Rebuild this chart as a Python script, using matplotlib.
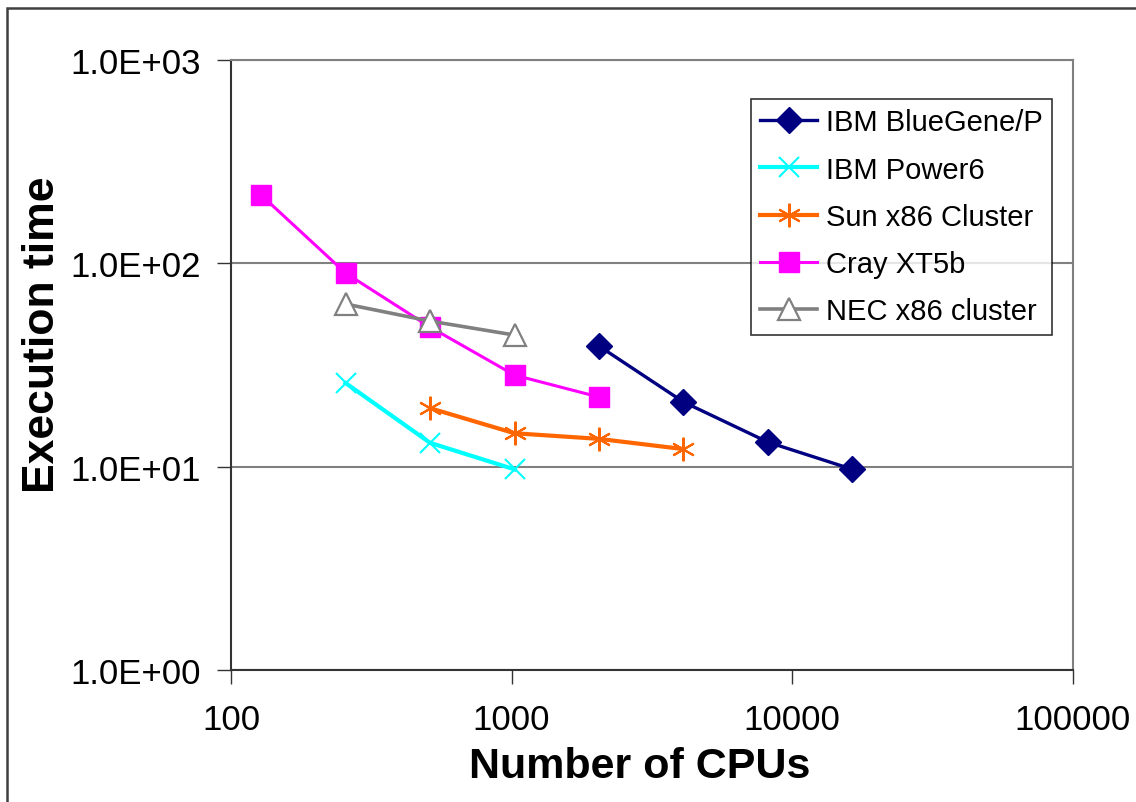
import math

import matplotlib
matplotlib.use("Agg")
import matplotlib.pyplot as plt
from matplotlib.ticker import FixedLocator, NullLocator, FuncFormatter
from matplotlib.patches import Rectangle

plt.rcParams["font.family"] = ["Liberation Sans", "DejaVu Sans"]

# Execution time vs. number of CPUs
bluegene_cpus = [2048, 4096, 8192, 16384]
bluegene_time = [39.2, 20.8, 13.2, 9.7]

power6_cpus = [256, 512, 1024]
power6_time = [25.8, 13.1, 9.7]

sun_cpus = [512, 1024, 2048, 4096]
sun_time = [19.4, 14.6, 13.7, 12.2]

cray_cpus = [128, 256, 512, 1024, 2048]
cray_time = [217, 89.6, 48.6, 28.2, 22.0]

nec_cpus = [256, 512, 1024]
nec_time = [63.1, 52.0, 44.4]

x_ticks = [100, 1000, 10000, 100000]
y_ticks = [1, 10, 100, 1000]

fig = plt.figure(figsize=(11.36, 8.03), dpi=100)
ax = fig.add_axes([0.2033, 0.1644, 0.7412, 0.7596])

# outer chart border (only left and top edges are inside the picture)
fig.patches.append(Rectangle((7 / 1136, -0.1), 1.2, (794 / 803) + 0.1,
                             transform=fig.transFigure, fill=False,
                             edgecolor="#404040", linewidth=1.8))

ax.plot(bluegene_cpus, bluegene_time, color="#000080", linewidth=2.4, marker="D",
        markersize=13, label="IBM BlueGene/P")
ax.plot(power6_cpus, power6_time, color="#00FFFF", linewidth=3, marker="x",
        markersize=15, markeredgewidth=1.5, label="IBM Power6")
ax.plot(sun_cpus, sun_time, color="#FF6600", linewidth=3, marker=(6, 2, 0),
        markersize=17, markeredgewidth=1.5, label="Sun x86 Cluster")
ax.plot(cray_cpus, cray_time, color="#FF00FF", linewidth=2.2, marker="s",
        markersize=14, label="Cray XT5b")
ax.plot(nec_cpus, nec_time, color="#808080", linewidth=2.6, marker="^",
        markersize=16, markerfacecolor="white", markeredgewidth=1.6,
        label="NEC x86 cluster")

ax.set_xscale("log")
ax.set_yscale("log")
ax.set_xlim(100, 100000)
ax.set_ylim(1, 1000)

ax.xaxis.set_major_locator(FixedLocator(x_ticks))
ax.xaxis.set_minor_locator(NullLocator())
ax.yaxis.set_major_locator(FixedLocator(y_ticks))
ax.yaxis.set_minor_locator(NullLocator())
ax.xaxis.set_major_formatter(FuncFormatter(lambda v, p: "%d" % v))
ax.yaxis.set_major_formatter(FuncFormatter(lambda v, p: "1.0E+%02d" % round(math.log10(v))))

ax.grid(axis="y", color="#808080", linewidth=1.5)
ax.set_axisbelow(True)

for side in ["top", "right"]:
    ax.spines[side].set_color("#808080")
    ax.spines[side].set_linewidth(1.5)
for side in ["left", "bottom"]:
    ax.spines[side].set_color("#333333")
    ax.spines[side].set_linewidth(1.5)

ax.tick_params(axis="both", direction="out", length=10, width=1, colors="#333333",
               labelcolor="black", labelsize=25)
ax.tick_params(axis="x", pad=14)
ax.tick_params(axis="y", pad=12)

ax.set_xlabel("Number of CPUs", fontsize=31, fontweight="bold")
ax.set_ylabel("Execution time", fontsize=32, fontweight="bold")
ax.xaxis.set_label_coords(0.486, -0.125)
ax.yaxis.set_label_coords(-0.2, 0.551)

leg = ax.legend(loc="upper right", bbox_to_anchor=(0.975, 0.936), fontsize=21,
                frameon=True, fancybox=False, edgecolor="black", handlelength=1.95,
                labelspacing=0.66, borderpad=0.32, handletextpad=0.3,
                borderaxespad=0)
leg.get_frame().set_linewidth(1.2)

fig.savefig("out.png", dpi=100)
